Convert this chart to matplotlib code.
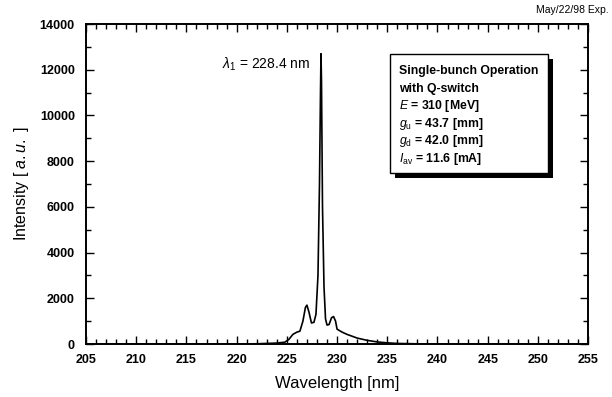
import matplotlib
matplotlib.use("Agg")
import matplotlib.pyplot as plt
from matplotlib.ticker import MultipleLocator
from matplotlib.patches import Rectangle

plt.rcParams["font.family"] = ["Liberation Sans", "DejaVu Sans"]
plt.rcParams["mathtext.fontset"] = "custom"
plt.rcParams["mathtext.rm"] = "Liberation Sans"
plt.rcParams["mathtext.it"] = "Liberation Sans:italic"

# spectrum
wavelength = [205, 220, 222, 224, 224.8, 225.2, 225.6, 226.0, 226.3, 226.6, 226.85,
              227.0, 227.2, 227.45, 227.7, 227.9, 228.1, 228.25, 228.35, 228.4,
              228.45, 228.55, 228.7, 228.85, 229.0, 229.2, 229.45, 229.65, 229.85,
              230.0, 230.5, 231.0, 231.5, 232, 233, 234, 235, 236, 238, 240, 255]
intensity = [0, 0, 10, 40, 80, 200, 420, 520, 560, 1000, 1600,
             1700, 1400, 920, 950, 1300, 3000, 7000, 11000, 12700,
             11500, 6000, 2500, 1100, 830, 850, 1150, 1200, 1000,
             650, 520, 420, 340, 260, 160, 90, 50, 25, 8, 0, 0]

info_lines = ["Single-bunch Operation", "with Q-switch",
              r"$E$ = 310 [MeV]", r"$g_{\rm u}$ = 43.7 [mm]",
              r"$g_{\rm d}$ = 42.0 [mm]", r"$I_{\rm av}$ = 11.6 [mA]"]

fig = plt.figure(figsize=(6.12, 3.97), dpi=100)
ax = fig.add_axes([0.1405, 0.1335, 0.8205, 0.806])
ax.plot(wavelength, intensity, color="black", lw=1.2)

ax.set_xlim(205, 255)
ax.set_ylim(0, 14000)
ax.xaxis.set_major_locator(MultipleLocator(5))
ax.xaxis.set_minor_locator(MultipleLocator(1))
ax.yaxis.set_major_locator(MultipleLocator(2000))
ax.yaxis.set_minor_locator(MultipleLocator(1000))
ax.tick_params(which="both", direction="in", top=True, right=True, width=1.0)
ax.tick_params(which="major", length=6, labelsize=9)
ax.tick_params(which="minor", length=3.5)
ax.tick_params(axis="x", which="major", pad=7.5)
ax.tick_params(axis="y", which="major", pad=8)
for lab in ax.get_xticklabels() + ax.get_yticklabels():
    lab.set_fontweight("bold")
for s in ax.spines.values():
    s.set_linewidth(1.4)

ax.set_xlabel("Wavelength [nm]", fontsize=12, labelpad=7)
ax.set_ylabel(r"Intensity [ $a.u.$ ]", fontsize=11.5, labelpad=6)

ax.text(218.5, 12050, r"$\lambda_1$ = 228.4 nm", fontsize=10)

# info box with drop shadow (offset ~5 px right and down)
bx0, bx1, by0, by1 = 235.3, 251.0, 7480, 12690
ax.add_patch(Rectangle((bx0 + 0.5, by0 - 220), bx1 - bx0, by1 - by0,
                       facecolor="black", edgecolor="none", zorder=3, clip_on=False))
ax.add_patch(Rectangle((bx0, by0), bx1 - bx0, by1 - by0,
                       facecolor="white", edgecolor="black", lw=1.0, zorder=4))
for i, line in enumerate(info_lines):
    ax.text(236.2, 11944 - i * 770, line, fontsize=8.8, fontweight="bold",
            va="center", zorder=5)

fig.text(0.994, 0.968, "May/22/98 Exp.", fontsize=7.5, ha="right")

fig.savefig("out.png", dpi=100)
